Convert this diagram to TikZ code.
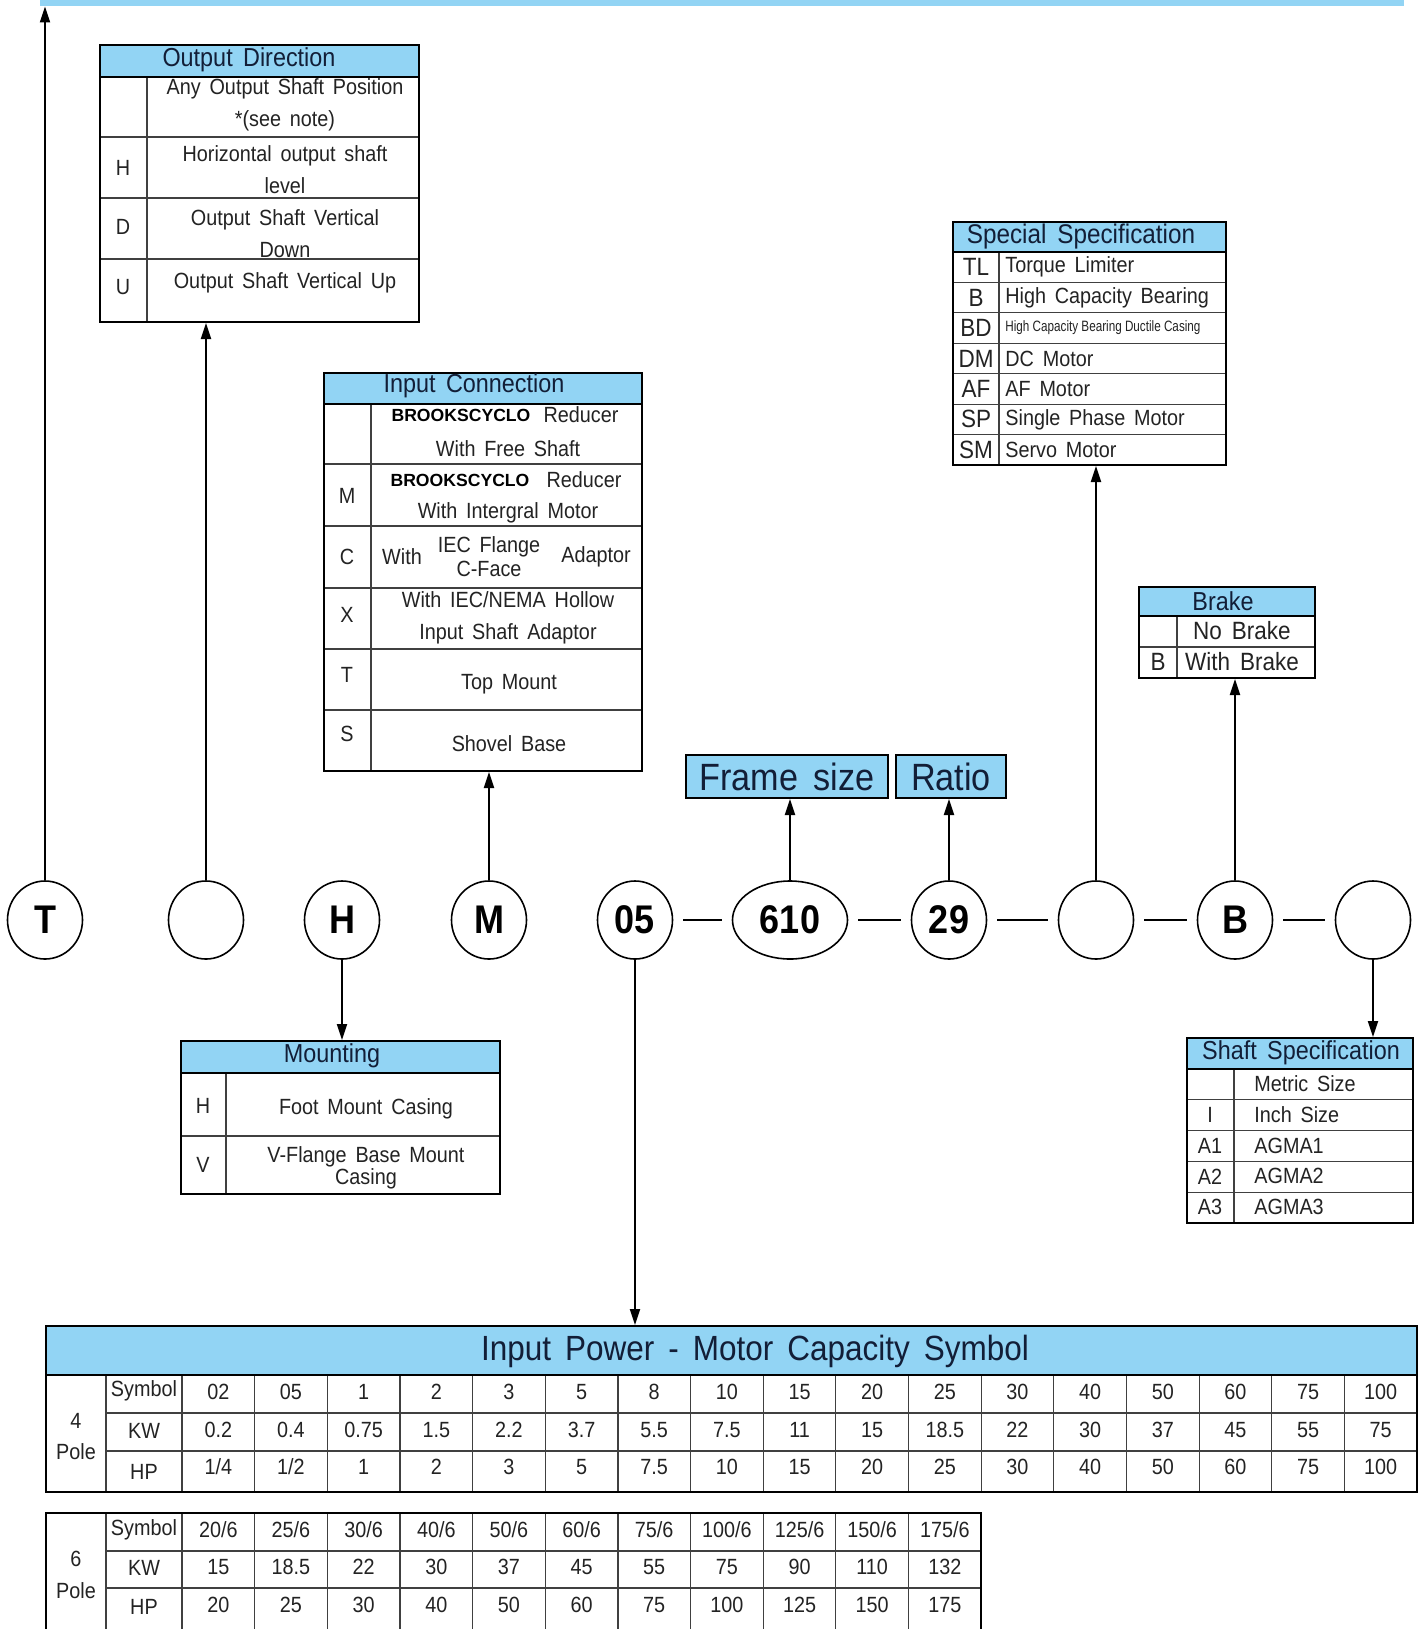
\documentclass[tikz,border=0pt]{standalone}
\usepackage{fontspec}
\setmainfont{Liberation Sans}[FakeStretch=0.9, WordSpace=1.6]
\newfontfamily\brandfont{Liberation Sans}
\newfontfamily\narrowfont{Liberation Sans}[FakeStretch=0.78]
\usetikzlibrary{positioning, arrows.meta, shapes.geometric, fit}
\definecolor{skyfill}{RGB}{146,212,244}
\definecolor{headink}{RGB}{18,30,55}
\definecolor{bodyink}{RGB}{35,35,35}

\begin{document}
\begin{tikzpicture}[x=0.5pt, y=-0.5pt, >={Triangle[length=8pt, width=5pt]},
    sel/.style={ellipse, draw, line width=0.8pt, minimum width=37.5pt, minimum height=39pt,
      inner sep=0pt, font=\fontsize{20}{20}\selectfont\bfseries},
    tbl/.style={draw, line width=1pt, inner sep=0pt},
    grid/.style={draw=black!75, line width=0.6pt},
    hd/.style={font=\fontsize{13}{13}\selectfont, text=headink},
    txt/.style={font=\fontsize{11}{16}\selectfont, text=bodyink, align=center},
    sym/.style={font=\fontsize{11}{11}\selectfont, text=bodyink},
    big/.style={font=\fontsize{12.5}{12.5}\selectfont, text=bodyink},
    brand/.style={font=\brandfont\fontsize{8.8}{8.8}\selectfont\bfseries, fill=white, inner sep=1pt},
    link/.style={line width=1pt, shorten <=5pt, shorten >=5pt},
    arr/.style={->, line width=1pt},
    tag/.style={draw, line width=1pt, fill=skyfill, inner sep=0pt,
      minimum height=21.5pt, font=\fontsize{19}{19}\selectfont, text=headink},
    num/.style={font=\fontsize{11}{11}\selectfont, text=bodyink}]

  \path[use as bounding box, fill=white] (0,0) rectangle (1426,1629);
  \node[fill=skyfill, inner sep=0pt, fit={(40,0) (1404,6)}] (topbar) {};

  % output direction
  \fill[skyfill] (100,45) rectangle (419,77);
  \draw[grid] (100,137) -- (419,137) (100,198) -- (419,198) (100,259) -- (419,259)
    (147,77) -- (147,322);
  \draw[line width=1pt] (100,77) -- (419,77);
  \node[tbl, fit={(100,45) (419,322)}] (outdir) {};
  \node[hd] at (249,60) {Output Direction};
  \node[txt] at (285,105) {Any Output Shaft Position\\*(see note)};
  \node[sym] at (123,168) {H};
  \node[txt] at (285,170) {Horizontal output shaft\\level};
  \node[sym] at (123,227) {D};
  \node[txt] at (285,234) {Output Shaft Vertical\\Down};
  \node[sym] at (123,287) {U};
  \node[txt] at (285,283) {Output Shaft Vertical Up};

  % input connection
  \fill[skyfill] (324,373) rectangle (642,404);
  \draw[grid] (324,464) -- (642,464) (324,526) -- (642,526) (324,588) -- (642,588)
    (324,649) -- (642,649) (324,710) -- (642,710) (371,404) -- (371,771);
  \draw[line width=1pt] (324,404) -- (642,404);
  \node[tbl, fit={(324,373) (642,771)}] (inconn) {};
  \node[hd] at (474,386) {Input Connection};
  \node[brand] at (461,415) {BROOKSCYCLO};
  \node[sym] at (581,415) {Reducer};
  \node[sym] at (508,449) {With Free Shaft};
  \node[sym] at (347,496) {M};
  \node[brand] at (460,480) {BROOKSCYCLO};
  \node[sym] at (584,480) {Reducer};
  \node[sym] at (508,513) {With Intergral Motor};
  \node[sym] at (347,557) {C};
  \node[sym] at (402,557) {With};
  \node[txt, font=\fontsize{11}{12}\selectfont] at (489,557) {IEC Flange\\C-Face};
  \node[sym] at (596,557) {Adaptor};
  \node[sym] at (347,615) {X};
  \node[txt] at (508,618) {With IEC/NEMA Hollow\\Input Shaft Adaptor};
  \node[sym] at (347,675) {T};
  \node[sym] at (509,684) {Top Mount};
  \node[sym] at (347,734) {S};
  \node[sym] at (509,744) {Shovel Base};

  % special specification
  \fill[skyfill] (953,222) rectangle (1226,252);
  \foreach \k in {1,...,6}
    \draw[grid] (953,{252+\k*30.43}) -- (1226,{252+\k*30.43});
  \draw[grid] (999,252) -- (999,465);
  \draw[line width=1pt] (953,252) -- (1226,252);
  \node[tbl, fit={(953,222) (1226,465)}] (special) {};
  \node[hd, font=\fontsize{13.5}{13.5}\selectfont] at (1081,237) {Special Specification};
  \foreach \s/\t [count=\i] in {TL/Torque Limiter, B/High Capacity Bearing,
      BD/{\narrowfont\fontsize{7.5}{7.5}\selectfont High Capacity Bearing Ductile Casing},
      DM/DC Motor, AF/AF Motor, SP/Single Phase Motor, SM/Servo Motor} {
    \node[big] at (976,{252+(\i-0.5)*30.43}) {\s};
    \node[sym, anchor=west, inner sep=0pt] at (1005,{252+(\i-0.5)*30.43}) {\t};
  }

  % brake
  \fill[skyfill] (1139,587) rectangle (1315,616);
  \draw[grid] (1139,647) -- (1315,647) (1177,616) -- (1177,678);
  \draw[line width=1pt] (1139,616) -- (1315,616);
  \node[tbl, fit={(1139,587) (1315,678)}] (brake) {};
  \node[hd] at (1223,601) {Brake};
  \node[big] at (1242,631) {No Brake};
  \node[big] at (1158,662) {B};
  \node[big] at (1242,662) {With Brake};

  \node[tag, minimum width=101pt] (frame) at (787,776.5) {Frame size};
  \node[tag, minimum width=55pt] (ratio) at (951,776.5) {Ratio};

  % mounting
  \fill[skyfill] (181,1041) rectangle (500,1073);
  \draw[grid] (181,1136) -- (500,1136) (226,1073) -- (226,1194);
  \draw[line width=1pt] (181,1073) -- (500,1073);
  \node[tbl, fit={(181,1041) (500,1194)}] (mounting) {};
  \node[hd] at (332,1056) {Mounting};
  \node[sym] at (203,1106) {H};
  \node[sym] at (366,1109) {Foot Mount Casing};
  \node[sym] at (203,1165) {V};
  \node[txt, font=\fontsize{11}{11}\selectfont] at (366,1168) {V-Flange Base Mount\\Casing};

  % shaft specification
  \fill[skyfill] (1187,1038) rectangle (1413,1069);
  \foreach \k in {1,...,4}
    \draw[grid] (1187,{1069+\k*30.8}) -- (1413,{1069+\k*30.8});
  \draw[grid] (1234,1069) -- (1234,1223);
  \draw[line width=1pt] (1187,1069) -- (1413,1069);
  \node[tbl, fit={(1187,1038) (1413,1223)}] (shaft) {};
  \node[hd] at (1301,1053) {Shaft Specification};
  \node[sym, anchor=west, inner sep=0pt] at (1254,1084) {Metric Size};
  \foreach \s/\t [count=\i] in {I/Inch Size, A1/AGMA1, A2/AGMA2, A3/AGMA3} {
    \node[sym] at (1210,{1084+\i*30.8}) {\s};
    \node[sym, anchor=west, inner sep=0pt] at (1254,{1084+\i*30.8}) {\t};
  }

  % input power, 4 pole
  \fill[skyfill] (46,1326) rectangle (1417,1375);
  \draw[grid] (106,1413) -- (1417,1413) (106,1451) -- (1417,1451) (106,1375) -- (106,1492);
  \foreach \k in {0,...,16}
    \draw[grid] ({182+\k*72.65},1375) -- ({182+\k*72.65},1492);
  \draw[line width=1pt] (46,1375) -- (1417,1375);
  \node[tbl, fit={(46,1326) (1417,1492)}] (power) {};
  \node[font=\fontsize{17.5}{17.5}\selectfont, text=headink] at (755,1351)
    {Input Power - Motor Capacity Symbol};
  \node[num] at (76,1421) {4};
  \node[num] at (76,1452) {Pole};
  \node[num] at (144,1391) {Symbol};
  \node[num] at (144,1431) {KW};
  \node[num] at (144,1472) {HP};
  \foreach \v [count=\i] in {02,05,1,2,3,5,8,10,15,20,25,30,40,50,60,75,100}
    \node[num] at ({182+(\i-0.5)*72.65},1392) {\v};
  \foreach \v [count=\i] in {0.2,0.4,0.75,1.5,2.2,3.7,5.5,7.5,11,15,18.5,22,30,37,45,55,75}
    \node[num] at ({182+(\i-0.5)*72.65},1430) {\v};
  \foreach \v [count=\i] in {{1/4},{1/2},1,2,3,5,7.5,10,15,20,25,30,40,50,60,75,100}
    \node[num] at ({182+(\i-0.5)*72.65},1467) {\v};

  % input power, 6 pole
  \draw[grid] (106,1551) -- (981,1551) (106,1588) -- (981,1588) (106,1513) -- (106,1640);
  \foreach \k in {0,...,10}
    \draw[grid] ({182+\k*72.65},1513) -- ({182+\k*72.65},1640);
  \draw[line width=1pt] (46,1640) -- (46,1513) -- (981,1513) -- (981,1640);
  \node[num] at (76,1559) {6};
  \node[num] at (76,1591) {Pole};
  \node[num] at (144,1530) {Symbol};
  \node[num] at (144,1568) {KW};
  \node[num] at (144,1607) {HP};
  \foreach \v [count=\i] in {{20/6},{25/6},{30/6},{40/6},{50/6},{60/6},{75/6},{100/6},{125/6},{150/6},{175/6}}
    \node[num] at ({182+(\i-0.5)*72.65},1530) {\v};
  \foreach \v [count=\i] in {15,18.5,22,30,37,45,55,75,90,110,132}
    \node[num] at ({182+(\i-0.5)*72.65},1567) {\v};
  \foreach \v [count=\i] in {20,25,30,40,50,60,75,100,125,150,175}
    \node[num] at ({182+(\i-0.5)*72.65},1605) {\v};

  % model code
  \node[sel] (cT) at (45,920) {T};
  \node[sel] (cDir) at (206,920) {};
  \node[sel] (cMount) at (342,920) {H};
  \node[sel] (cInput) at (489,920) {M};
  \node[sel] (cPower) at (635,920) {05};
  \node[sel, minimum width=57.5pt] (cFrame) at (790,920) {610};
  \node[sel] (cRatio) at (949,920) {29};
  \node[sel] (cSpec) at (1096,920) {};
  \node[sel] (cBrake) at (1235,920) {B};
  \node[sel] (cShaft) at (1373,920) {};

  \draw[link] (cPower) -- (cFrame);
  \draw[link] (cFrame) -- (cRatio);
  \draw[link] (cRatio) -- (cSpec);
  \draw[link] (cSpec) -- (cBrake);
  \draw[link] (cBrake) -- (cShaft);

  \draw[arr] (cT) -- (cT |- topbar.south);
  \draw[arr] (cDir) -- (cDir |- outdir.south);
  \draw[arr] (cMount) -- (cMount |- mounting.north);
  \draw[arr] (cInput) -- (cInput |- inconn.south);
  \draw[arr] (cPower) -- (cPower |- power.north);
  \draw[arr] (cFrame) -- (cFrame |- frame.south);
  \draw[arr] (cRatio) -- (cRatio |- ratio.south);
  \draw[arr] (cSpec) -- (cSpec |- special.south);
  \draw[arr] (cBrake) -- (cBrake |- brake.south);
  \draw[arr] (cShaft) -- (cShaft |- shaft.north);
\end{tikzpicture}
\end{document}
